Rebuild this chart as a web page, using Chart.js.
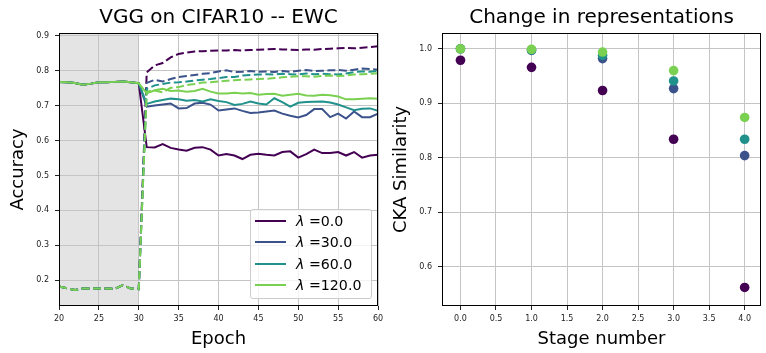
<!DOCTYPE html>
<html lang="en">
<head>
<meta charset="utf-8">
<title>VGG on CIFAR10 -- EWC</title>
<script src="https://cdn.jsdelivr.net/npm/chart.js@4.4.1/dist/chart.umd.min.js"></script>
<style>
  html, body { margin: 0; padding: 0; background: #fff; }
  #lienzo { position: relative; width: 766px; height: 353px; overflow: hidden; font-family: 'DejaVu Sans', sans-serif; }
  #grafIzq { position: absolute; left: 0; top: 0; }
  #grafDer { position: absolute; left: 383px; top: 0; }
  .leyenda { position: absolute; left: 250px; top: 209px; width: 120px; height: 88px;
             border: 1px solid #cccccc; border-radius: 3px; background: rgba(255,255,255,0.8); }
  .leyenda .fila { position: absolute; left: 4px; height: 20px; display: flex; align-items: center;
                   font-size: 14.2px; color: #000; white-space: nowrap; }
  .leyenda .muestra { width: 31px; height: 2px; margin-right: 10px; }
</style>
</head>
<body>
<div id="lienzo">
  <canvas id="grafIzq" width="383" height="353"></canvas>
  <canvas id="grafDer" width="383" height="353"></canvas>
  <div class="leyenda" id="leyenda"></div>
</div>
<script>
// ─── Datos ────────────────────────────────────────
const lambdas  = ['0.0', '30.0', '60.0', '120.0'];
const colores  = ['#440154', '#3b528b', '#21918c', '#7ad151'];

// épocas visibles (20 a 60)
const epocas = Array.from({ length: 41 }, (_, i) => 20 + i);

// tramo compartido, épocas 20-30
const previaSolida      = [0.768, 0.767, 0.765, 0.760, 0.763, 0.767, 0.767, 0.768, 0.769, 0.767, 0.764];
const previaDiscontinua = [0.182, 0.177, 0.172, 0.176, 0.176, 0.176, 0.176, 0.175, 0.186, 0.176, 0.174];

// épocas 31-60 (línea continua)
const solida0   = [0.581, 0.580, 0.590, 0.579, 0.574, 0.571, 0.579, 0.581, 0.574, 0.557, 0.561, 0.557, 0.547, 0.559, 0.562,
                   0.559, 0.557, 0.567, 0.569, 0.551, 0.561, 0.574, 0.564, 0.564, 0.567, 0.557, 0.567, 0.551, 0.557, 0.559];
const solida30  = [0.697, 0.700, 0.703, 0.706, 0.692, 0.693, 0.706, 0.708, 0.703, 0.686, 0.689, 0.692, 0.685, 0.679, 0.680,
                   0.683, 0.686, 0.677, 0.671, 0.666, 0.673, 0.690, 0.690, 0.667, 0.677, 0.663, 0.683, 0.667, 0.667, 0.677];
const solida60  = [0.705, 0.712, 0.716, 0.720, 0.718, 0.714, 0.716, 0.712, 0.718, 0.713, 0.710, 0.702, 0.705, 0.712, 0.706,
                   0.703, 0.721, 0.710, 0.697, 0.708, 0.710, 0.711, 0.712, 0.709, 0.703, 0.695, 0.687, 0.691, 0.692, 0.685];
const solida120 = [0.735, 0.744, 0.748, 0.742, 0.743, 0.740, 0.742, 0.748, 0.740, 0.735, 0.735, 0.737, 0.735, 0.736, 0.731,
                   0.733, 0.734, 0.728, 0.731, 0.734, 0.729, 0.728, 0.731, 0.730, 0.726, 0.718, 0.718, 0.720, 0.721, 0.720];

// épocas 31-60 (línea discontinua)
const disc0   = [0.795, 0.815, 0.822, 0.838, 0.848, 0.852, 0.855, 0.856, 0.857, 0.858, 0.858, 0.859, 0.858, 0.859, 0.860,
                 0.861, 0.862, 0.861, 0.860, 0.859, 0.861, 0.860, 0.862, 0.863, 0.864, 0.865, 0.864, 0.866, 0.868, 0.870];
const disc30  = [0.765, 0.774, 0.769, 0.776, 0.782, 0.785, 0.788, 0.791, 0.793, 0.798, 0.801, 0.796, 0.797, 0.799, 0.797,
                 0.798, 0.796, 0.799, 0.797, 0.800, 0.802, 0.799, 0.800, 0.801, 0.802, 0.800, 0.803, 0.806, 0.805, 0.803];
const disc60  = [0.748, 0.758, 0.762, 0.766, 0.767, 0.769, 0.772, 0.774, 0.776, 0.779, 0.782, 0.782, 0.786, 0.788, 0.789,
                 0.790, 0.789, 0.791, 0.790, 0.789, 0.792, 0.790, 0.791, 0.790, 0.789, 0.792, 0.796, 0.798, 0.797, 0.800];
const disc120 = [0.740, 0.743, 0.738, 0.751, 0.753, 0.759, 0.762, 0.766, 0.767, 0.769, 0.771, 0.773, 0.774, 0.775, 0.776,
                 0.777, 0.779, 0.781, 0.783, 0.784, 0.784, 0.783, 0.785, 0.786, 0.785, 0.786, 0.789, 0.790, 0.791, 0.793];

const solidas      = [solida0, solida30, solida60, solida120];
const discontinuas = [disc0, disc30, disc60, disc120];

// panel derecho: similitud CKA por etapa
const etapas  = [0, 1, 2, 3, 4];
const cka0    = [0.979, 0.966, 0.9235, 0.834, 0.562];
const cka30   = [1.000, 0.997, 0.982, 0.927, 0.804];
const cka60   = [1.000, 0.998, 0.988, 0.941, 0.834];
const cka120  = [1.000, 0.999, 0.994, 0.960, 0.874];
const ckas    = [cka0, cka30, cka60, cka120];

// ─── Estilo común ────────────────────────────────
const fuente   = "'DejaVu Sans', sans-serif";
const colorGrid = '#c4c4c4';

// marco negro alrededor del área de ejes
const marcoEjes = {
  id: 'marcoEjes',
  afterDraw(chart) {
    const { ctx, chartArea: a } = chart;
    ctx.save();
    ctx.strokeStyle = '#000';
    ctx.lineWidth = 1;
    ctx.strokeRect(a.left + 0.5, a.top + 0.5, a.width - 1, a.height - 1);
    ctx.restore();
  }
};

// franja gris de las épocas 20-30
const franjaGris = {
  id: 'franjaGris',
  beforeDraw(chart) {
    const { ctx, chartArea: a, scales } = chart;
    const x0 = scales.x.getPixelForValue(20);
    const x1 = scales.x.getPixelForValue(30);
    ctx.save();
    ctx.fillStyle = '#e4e4e4';
    ctx.fillRect(x0, a.top, x1 - x0, a.height);
    ctx.restore();
  }
};

function ejeX(titulo, min, max, paso, formato) {
  return {
    type: 'linear', min, max,
    // alto fijo y sin reservar hueco para la última etiqueta
    afterFit(s) { s.height = 47; s.paddingLeft = 0; s.paddingRight = 0; },
    border: { display: false },
    grid: { color: colorGrid, lineWidth: 1, drawTicks: true, tickLength: 4, tickColor: '#222' },
    ticks: { stepSize: paso, includeBounds: false, autoSkip: false, maxRotation: 0, padding: 4,
             color: '#222', font: { family: fuente, size: 8 }, callback: formato },
    title: { display: true, text: titulo, color: '#000', font: { family: fuente, size: 18 },
             padding: { top: 0, bottom: 2.6 } }
  };
}

function ejeY(titulo, min, max) {
  return {
    type: 'linear', min, max,
    afterFit(s) { s.width = 59; s.paddingTop = 0; s.paddingBottom = 0; },
    border: { display: false },
    grid: { color: colorGrid, lineWidth: 1, drawTicks: true, tickLength: 4, tickColor: '#222' },
    ticks: { stepSize: 0.1, includeBounds: false, padding: 6, color: '#222',
             font: { family: fuente, size: 8 }, callback: v => v.toFixed(1) },
    title: { display: true, text: titulo, color: '#000', font: { family: fuente, size: 18 },
             padding: { top: 7.8, bottom: 0 } }
  };
}

function tituloGrafico(texto) {
  return { display: true, text: texto, fullSize: false, color: '#000',
           font: { family: fuente, size: 20, weight: 'normal' },
           padding: { top: 6.1, bottom: 2.9 } };
}

// ─── Gráfico izquierdo ────────────────────────────
const datasetsIzq = [];
let orden = 100;
lambdas.forEach((lam, i) => {
  const continua = previaSolida.concat(solidas[i]);
  const rayada   = previaDiscontinua.concat(discontinuas[i]);
  datasetsIzq.push({
    label: 'λ =' + lam,
    data: epocas.map((e, k) => ({ x: e, y: continua[k] })),
    borderColor: colores[i], borderWidth: 2, pointRadius: 0, tension: 0, fill: false,
    order: orden--
  });
  datasetsIzq.push({
    label: 'λ =' + lam + ' (dashed)',
    data: epocas.map((e, k) => ({ x: e, y: rayada[k] })),
    borderColor: colores[i], borderWidth: 2, borderDash: [8, 3.5], pointRadius: 0, tension: 0, fill: false,
    order: orden--
  });
});

new Chart(document.getElementById('grafIzq').getContext('2d'), {
  type: 'line',
  data: { datasets: datasetsIzq },
  options: {
    responsive: false, animation: false,
    layout: { padding: { left: 0, right: 5, top: 0, bottom: 0 } },
    plugins: {
      legend: { display: false },
      tooltip: { enabled: false },
      title: tituloGrafico('VGG on CIFAR10 -- EWC')
    },
    scales: {
      x: ejeX('Epoch', 20, 60, 5, v => String(v)),
      y: ejeY('Accuracy', 0.126, 0.908)
    }
  },
  plugins: [franjaGris, marcoEjes]
});

// ─── Gráfico derecho ──────────────────────────────
const datasetsDer = lambdas.map((lam, i) => ({
  label: 'λ =' + lam,
  data: etapas.map((e, k) => ({ x: e, y: ckas[i][k] })),
  backgroundColor: colores[i], borderWidth: 0, pointRadius: 4.8,
  order: 10 - i
}));

new Chart(document.getElementById('grafDer').getContext('2d'), {
  type: 'scatter',
  data: { datasets: datasetsDer },
  options: {
    responsive: false, animation: false,
    layout: { padding: { left: 0, right: 5, top: 0, bottom: 0 } },
    plugins: {
      legend: { display: false },
      tooltip: { enabled: false },
      title: tituloGrafico('Change in representations')
    },
    scales: {
      x: ejeX('Stage number', -0.26, 4.23, 0.5, v => v.toFixed(1)),
      y: ejeY('CKA Similarity', 0.528, 1.029)
    }
  },
  plugins: [marcoEjes]
});

// ─── Leyenda ──────────────────────────────────────
const leyenda = document.getElementById('leyenda');
const centrosFila = [1, 22.3, 43.7, 65];
lambdas.forEach((lam, i) => {
  const fila = document.createElement('div');
  fila.className = 'fila';
  fila.style.top = centrosFila[i] + 'px';
  fila.innerHTML = `<span class="muestra" style="background:${colores[i]}"></span><span><i>λ</i> =${lam}</span>`;
  leyenda.appendChild(fila);
});
</script>
</body>
</html>
